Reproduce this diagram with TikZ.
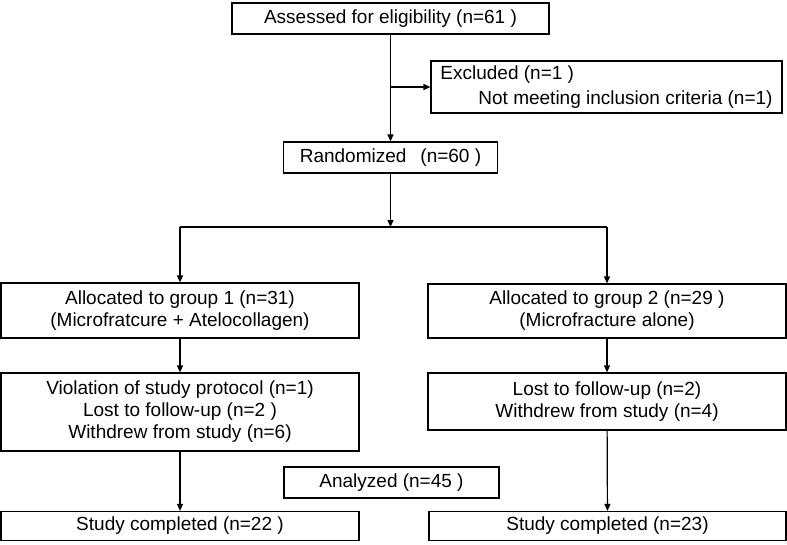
\documentclass[tikz,border=0pt]{standalone}
\usepackage{fontspec}
\setmainfont{Liberation Sans}
\usetikzlibrary{arrows.meta, positioning}

\begin{document}
\begin{tikzpicture}[x=1pt, y=-1pt, line width=1.2pt,
  box/.style={draw, rectangle, inner sep=0pt, align=center,
    font=\fontsize{19}{22}\selectfont},
  arr/.style={-{Triangle[length=7pt, width=6pt]}}]
  \useasboundingbox (0,0) rectangle (787,544);

  % Enrollment
  \node[box, minimum width=317pt, minimum height=31pt] (assess) at (390.5,18.5)
    {Assessed for eligibility (n=61 )};
  \node[box, minimum width=351pt, minimum height=52pt, align=left]
    (excl) at (606.5,87)
    {Excluded (n=1 )\\[3pt]\hspace*{38pt}Not meeting inclusion criteria (n=1)};
  \node[box, minimum width=214pt, minimum height=31pt] (rand) at (390.5,157.5)
    {Randomized\hspace{14pt}(n=60 )};

  % Allocation
  \node[box, minimum width=358pt, minimum height=55pt] (grpA) at (180,310.5)
    {Allocated to group 1 (n=31)\\(Microfratcure + Atelocollagen)};
  \node[box, minimum width=358pt, minimum height=54pt] (grpB) at (607,311)
    {Allocated to group 2 (n=29 )\\(Microfracture alone)};

  % Follow-up
  \node[box, minimum width=358pt, minimum height=78pt] (lossA) at (180,412)
    {Violation of study protocol (n=1)\\Lost to follow-up (n=2 )\\Withdrew from study (n=6)};
  \node[box, minimum width=358pt, minimum height=57pt] (lossB) at (607,401.5)
    {Lost to follow-up (n=2)\\Withdrew from study (n=4)};

  % Analysis
  \node[box, minimum width=215pt, minimum height=31pt] (anal) at (391.5,482.5)
    {Analyzed (n=45 )};
  \node[box, minimum width=358pt, minimum height=29pt] (doneA) at (180,526)
    {Study completed (n=22 )};
  \node[box, minimum width=357pt, minimum height=29pt] (doneB) at (607.5,526)
    {Study completed (n=23)};

  % Connectors
  \coordinate (split) at (assess.south |- excl.west);
  \coordinate (fork) at (390.5,227);
  \coordinate (forkA) at (grpA.north |- fork);
  \coordinate (forkB) at (grpB.north |- fork);
  \draw[arr] (assess) -- (rand);
  \draw[arr] (split) -- (excl);
  \draw[arr] (rand) -- (fork);
  \draw (forkA) -- (forkB);
  \draw[arr] (forkA) -- (grpA);
  \draw[arr] (forkB) -- (grpB);
  \draw[arr] (grpA) -- (lossA);
  \draw[arr] (grpB) -- (lossB);
  \draw[arr] (lossA) -- (doneA);
  \draw[arr] (lossB) -- (doneB);
\end{tikzpicture}
\end{document}
